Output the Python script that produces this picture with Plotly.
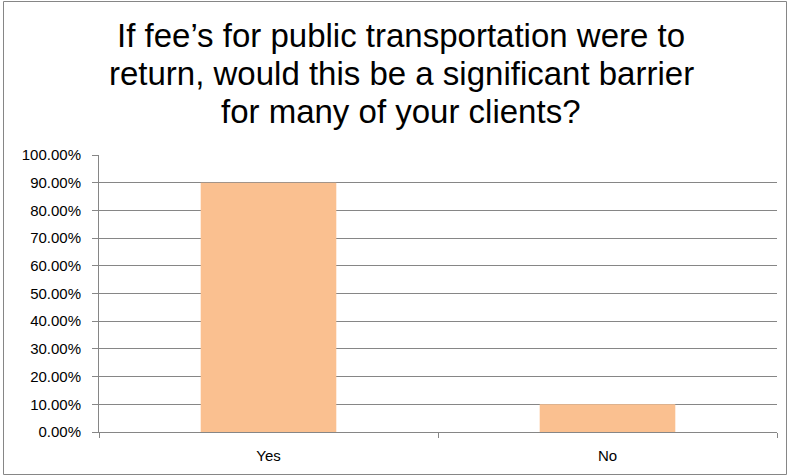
import plotly.graph_objects as go

categories = ["Yes", "No"]
values = [0.90, 0.10]
title_lines = [
    "If fee’s for public transportation were to",
    "return, would this be a significant barrier",
    "for many of your clients?",
]

W, H = 789, 475
L, R, T, B = 99, 12, 155, 43
ph = H - T - B
pw = W - L - R

def py(p):
    return (H - B - p) / ph

def px(p):
    return (p - L) / pw

fig = go.Figure()
fig.add_trace(go.Bar(
    x=categories, y=values,
    marker=dict(color="#FAC090", line=dict(width=0)),
    hoverinfo="skip",
))

title_y = [35.2, 73.5, 111.8]
annotations = []
for line, yy in zip(title_lines, title_y):
    annotations.append(dict(
        text=line, x=px(401), y=py(yy), xref="paper", yref="paper",
        xanchor="center", yanchor="middle", showarrow=False,
        font=dict(family="Liberation Sans, Arial", size=33, color="#000000"),
    ))

fig.update_layout(
    width=W, height=H,
    margin=dict(l=L, r=R, t=T, b=B, pad=0),
    paper_bgcolor="white", plot_bgcolor="white",
    bargap=0.6,
    showlegend=False,
    annotations=annotations,
    shapes=[dict(type="rect", xref="paper", yref="paper",
                 x0=px(3.5), x1=px(786.5), y0=py(474.5), y1=py(1.5),
                 line=dict(color="#868686", width=1), fillcolor="rgba(0,0,0,0)", layer="below")],
    font=dict(family="Liberation Sans, Arial", size=15, color="#000000"),
    xaxis=dict(
        type="category", showgrid=False, showline=True, linecolor="#868686", linewidth=1,
        ticks="outside", ticklen=5, tickcolor="#868686", tickson="boundaries",
        tickfont=dict(size=15), zeroline=False, ticklabelstandoff=10,
    ),
    yaxis=dict(
        range=[0, 1], dtick=0.1, tick0=0, tickformat=".2%",
        showgrid=True, gridcolor="#868686", gridwidth=1,
        showline=True, linecolor="#868686", linewidth=1,
        ticks="outside", ticklen=6, tickcolor="#868686",
        tickfont=dict(size=15), zeroline=False, ticklabelstandoff=8,
    ),
)

fig.write_html(
    "out.html",
    config={"displayModeBar": False, "staticPlot": True},
    post_script="document.body.style.margin='0px';document.body.style.overflow='hidden';",
)
